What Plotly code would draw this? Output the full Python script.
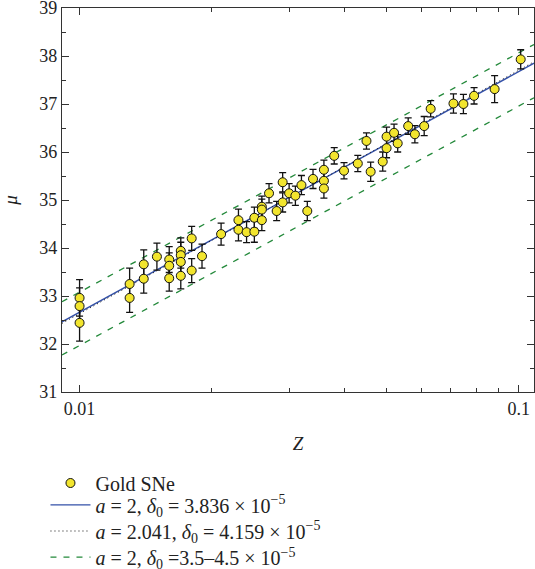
import numpy as np
import plotly.graph_objects as go

# Gold SNe sample
z = [0.0100, 0.0100, 0.0100, 0.0130, 0.0130, 0.0140, 0.0140, 0.0150, 0.0160, 0.0160,
     0.0160, 0.0170, 0.0170, 0.0170, 0.0170, 0.0180, 0.0180, 0.0190, 0.0210, 0.0230,
     0.0230, 0.0240, 0.0250, 0.0250, 0.0260, 0.0260, 0.0260, 0.0270, 0.0281, 0.0290,
     0.0290, 0.0300, 0.0310, 0.0320, 0.0330, 0.0340, 0.0360, 0.0360, 0.0360, 0.0380,
     0.0400, 0.0430, 0.0450, 0.0460, 0.0490, 0.0500, 0.0500, 0.0520, 0.0530, 0.0560,
     0.0580, 0.0609, 0.0630, 0.0710, 0.0748, 0.0791, 0.0881, 0.1010]
mu = [32.96, 32.79, 32.44, 33.25, 32.96, 33.66, 33.36, 33.82, 33.76, 33.63,
      33.37, 33.94, 33.85, 33.71, 33.42, 34.20, 33.53, 33.83, 34.29, 34.58,
      34.38, 34.33, 34.63, 34.34, 34.86, 34.80, 34.58, 35.14, 34.77, 35.37,
      34.95, 35.14, 35.09, 35.31, 34.77, 35.44, 35.63, 35.40, 35.24, 35.92,
      35.61, 35.76, 36.23, 35.59, 35.80, 36.08, 36.32, 36.40, 36.18, 36.54,
      36.37, 36.54, 36.90, 37.01, 37.00, 37.17, 37.31, 37.93]
mu_err = [0.38, 0.38, 0.38, 0.33, 0.30, 0.30, 0.30, 0.28, 0.27, 0.27,
          0.27, 0.27, 0.27, 0.27, 0.27, 0.25, 0.25, 0.25, 0.23, 0.23,
          0.23, 0.22, 0.22, 0.22, 0.22, 0.22, 0.22, 0.20, 0.20, 0.20,
          0.20, 0.20, 0.20, 0.20, 0.20, 0.20, 0.20, 0.20, 0.20, 0.17,
          0.17, 0.17, 0.17, 0.20, 0.20, 0.20, 0.20, 0.18, 0.18, 0.17,
          0.18, 0.20, 0.17, 0.20, 0.20, 0.17, 0.28, 0.20]

# model curves (end values)
z_line = [0.00912, 0.1083]
mu_best = [32.46, 37.85]
mu_fit = [32.43, 37.88]
mu_hi = [32.88, 38.24]
mu_lo = [31.77, 37.13]

serif = "Liberation Serif"
lab_best = "<i>a</i> = 2, <i>δ</i><sub>0</sub> = 3.836 × 10<sup>−5</sup>"
lab_fit = "<i>a</i> = 2.041, <i>δ</i><sub>0</sub> = 4.159 × 10<sup>−5</sup>"
lab_band = "<i>a</i> = 2, <i>δ</i><sub>0</sub> =3.5–4.5 × 10<sup>−5</sup>"

fig = go.Figure()

fig.add_trace(go.Scatter(x=z_line, y=mu_hi, mode="lines", name=lab_band, legendgroup="band",
                         legend="legend4", line=dict(color="#23893a", width=1.3, dash="6px,7px")))
fig.add_trace(go.Scatter(x=z_line, y=mu_lo, mode="lines", name=lab_band, legendgroup="band",
                         showlegend=False, line=dict(color="#23893a", width=1.3, dash="6px,7px")))
fig.add_trace(go.Scatter(x=z_line, y=mu_best, mode="lines", name=lab_best, legend="legend2",
                         line=dict(color="#3350a8", width=1.4)))
fig.add_trace(go.Scatter(x=z_line, y=mu_fit, mode="lines", name=lab_fit, legend="legend3",
                         line=dict(color="#111111", width=1, dash="1px,3px")))
fig.add_trace(go.Scatter(x=z, y=mu, mode="markers", name="Gold SNe", legend="legend",
                         error_y=dict(type="data", array=mu_err, color="#111111",
                                      thickness=1.3, width=3.5),
                         marker=dict(color="#f2e52e", size=9, line=dict(color="#111111", width=1))))

axis_common = dict(showline=True, linecolor="#333333", linewidth=1.3, mirror="ticks",
                   ticks="inside", ticklen=7, tickwidth=1.2, tickcolor="#333333",
                   showgrid=False, zeroline=False, automargin=False,
                   ticklabeloverflow="allow",
                   tickfont=dict(family=serif, size=18, color="#222222"))

fig.update_xaxes(type="log", range=[np.log10(0.00912), np.log10(0.1083)],
                 tickvals=[0.01, 0.1], ticktext=["0.01", "0.1"],
                 minor=dict(tickvals=[0.02, 0.03, 0.04, 0.05, 0.06, 0.07, 0.08, 0.09],
                            ticks="inside", ticklen=4, tickwidth=1.2, tickcolor="#333333"),
                 title=dict(text="<i>Z</i>", font=dict(family=serif, size=19, color="#222222"),
                            standoff=18),
                 **axis_common)
fig.update_yaxes(range=[31, 39], dtick=1,
                 minor=dict(dtick=0.5, ticks="inside", ticklen=4, tickwidth=1.2, tickcolor="#333333"),
                 title=dict(text="<i>μ</i>", font=dict(family=serif, size=19, color="#222222"),
                            standoff=19),
                 **axis_common)

# one legend per entry so the rows can sit as tightly as in the original
leg = dict(x=-0.035, xanchor="left", yanchor="middle", orientation="v",
           font=dict(family=serif, size=20, color="#222222"),
           bgcolor="rgba(0,0,0,0)", itemwidth=40)

fig.update_layout(width=535, height=569,
                  margin=dict(l=62, r=1, t=8, b=177, autoexpand=False),
                  plot_bgcolor="white", paper_bgcolor="white",
                  font=dict(family=serif, size=18, color="#222222"),
                  legend=dict(leg, y=-0.237),
                  legend2=dict(leg, y=-0.294),
                  legend3=dict(leg, y=-0.362),
                  legend4=dict(leg, y=-0.430))

# drop the page's default body margin so the figure sits at the window's corner
fig.write_html("out.html", config={"displayModeBar": False},
               post_script="document.body.style.margin='0px';")
